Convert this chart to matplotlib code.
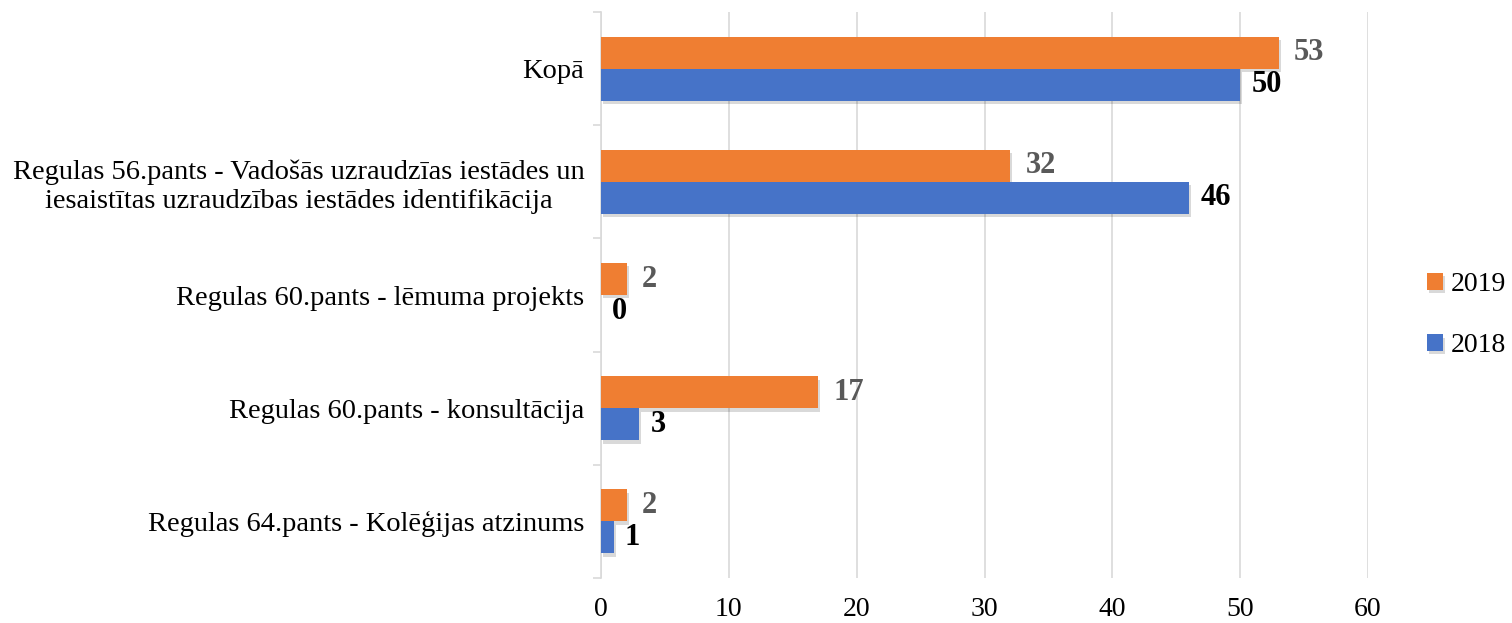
import numpy as np
import matplotlib
matplotlib.use("Agg")
import matplotlib.pyplot as plt
from matplotlib import patheffects as pe

# data
categories = [
    "Kopā",
    "Regulas 56.pants - Vadošās uzraudzīas iestādes un\niesaistītas uzraudzības iestādes identifikācija",
    "Regulas 60.pants - lēmuma projekts",
    "Regulas 60.pants - konsultācija",
    "Regulas 64.pants - Kolēģijas atzinums",
]
vals_2019 = [53, 32, 2, 17, 2]
vals_2018 = [50, 46, 0, 3, 1]
xticks = [0, 10, 20, 30, 40, 50, 60]

plt.rcParams['font.family'] = ['Liberation Serif', 'DejaVu Serif']

fig = plt.figure(figsize=(15.12, 6.23), dpi=100)
ax = fig.add_axes([0.3975, 0.0722, 0.5073, 0.9085])

n = len(categories)
pos = np.arange(n)[::-1]  # Kopā on top
h = 0.283

shadow = [pe.SimplePatchShadow(offset=(1.5, -2.5), shadow_rgbFace='black', alpha=0.15), pe.Normal()]

b19 = ax.barh(pos + h / 2, vals_2019, height=h, color='#EF7E32', label='2019', zorder=3)
b18 = ax.barh(pos - h / 2, vals_2018, height=h, color='#4673C8', label='2018', zorder=3)
for b in list(b19) + list(b18):
    b.set_path_effects(shadow)

for y, v in zip(pos + h / 2, vals_2019):
    ax.annotate(str(v), (v, y), xytext=(11, 0), textcoords='offset points',
                va='center', ha='left', fontsize=22, fontweight='bold', color='#595959')
for y, v in zip(pos - h / 2, vals_2018):
    ax.annotate(str(v), (v, y), xytext=(8, 0), textcoords='offset points',
                va='center', ha='left', fontsize=22, fontweight='bold', color='black')

ax.set_xlim(0, 60)
ax.set_ylim(-0.5, n - 0.5)
ax.set_xticks(xticks)
ax.set_xticklabels([str(t) for t in xticks], fontsize=20)
ax.set_yticks(pos)
ax.set_yticklabels(categories, fontsize=20.5)
ax.set_yticks(np.arange(n + 1) - 0.5, minor=True)
ax.tick_params(axis='y', which='major', length=0, pad=12)
ax.tick_params(axis='y', which='minor', length=6, color='#d9d9d9', width=1.2)
ax.tick_params(axis='x', length=0, pad=14)
for lbl in ax.get_yticklabels():
    lbl.set_multialignment('center')

ax.grid(axis='x', color='#d9d9d9', linewidth=1.2, zorder=0)
ax.set_axisbelow(True)
for s in ['top', 'right', 'bottom']:
    ax.spines[s].set_visible(False)
ax.spines['left'].set_color('#d9d9d9')
ax.spines['left'].set_linewidth(1.2)

handles, labels = ax.get_legend_handles_labels()
fig.legend(handles, labels, loc='center left', bbox_to_anchor=(0.944, 0.494),
           frameon=False, fontsize=20, handlelength=0.55, handleheight=0.55,
           labelspacing=1.3, handletextpad=0.3, borderaxespad=0, borderpad=0)

fig.savefig('out.png', dpi=100)
